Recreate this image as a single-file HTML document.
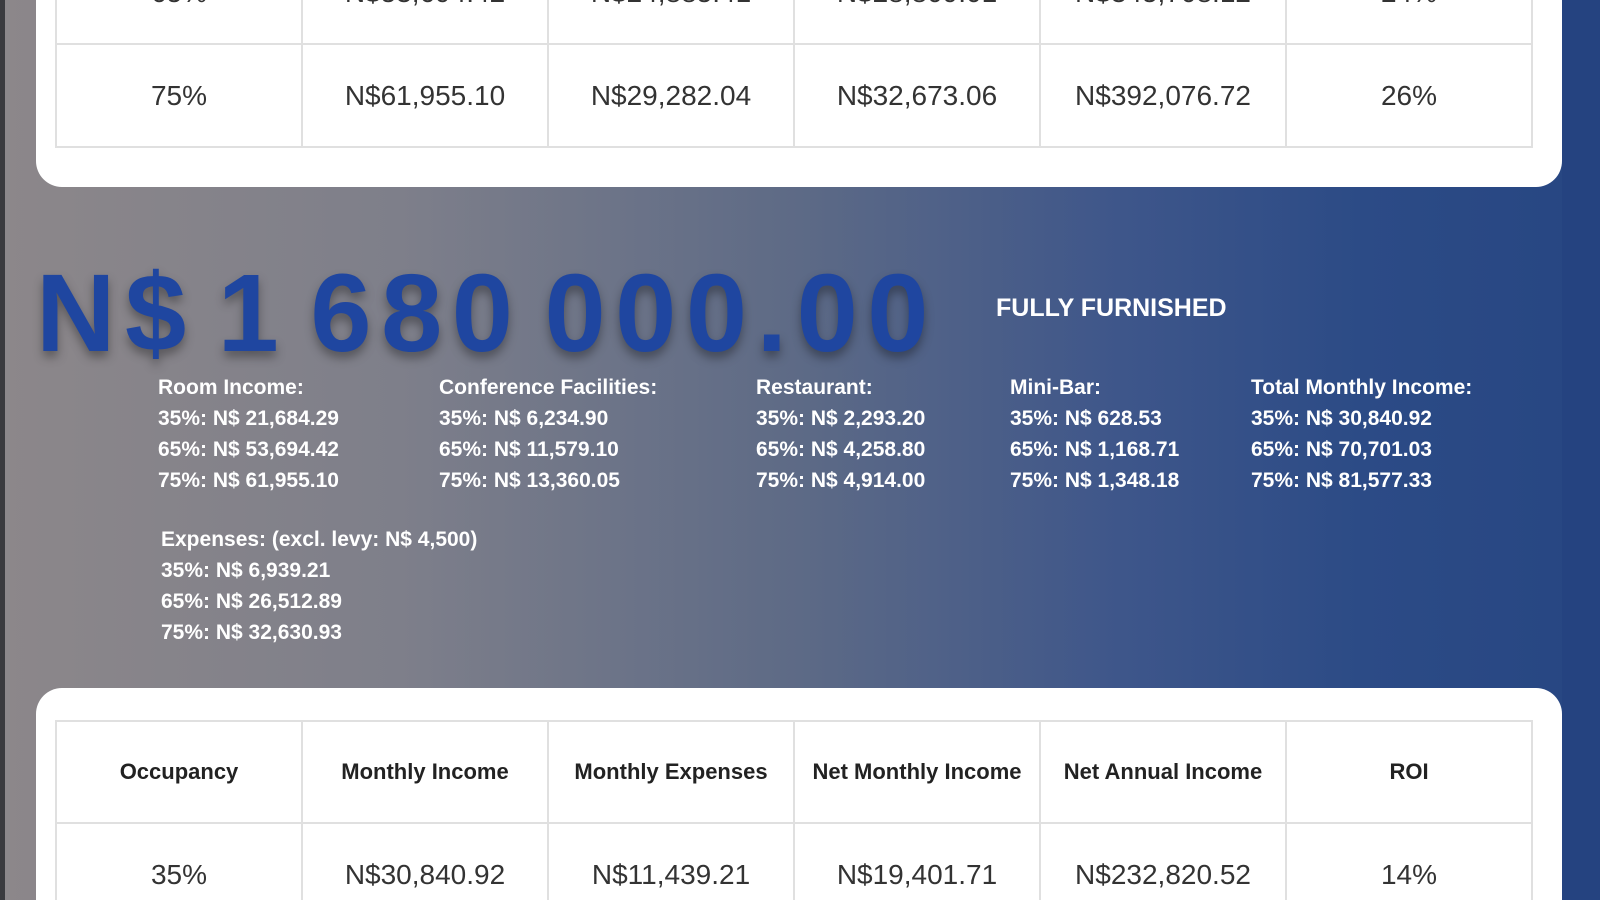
<!DOCTYPE html>
<html><head><meta charset="utf-8"><style>
*{margin:0;padding:0;box-sizing:border-box}
html{width:1600px;height:900px;overflow:hidden}
body{width:1600px;height:900px;overflow:hidden;position:relative;font-family:"Liberation Sans",sans-serif;
background:linear-gradient(90deg,#8c878a 0%,#7e7f8a 25%,#5d6a86 50%,#3e568a 70%,#2c4b86 85%,#274682 100%);}
.strip{position:absolute;left:0;top:0;width:5px;height:900px;background:#3a3a3e}
.rstrip{position:absolute;left:1562px;top:0;width:38px;height:900px;background:#254380}
.card{position:absolute;left:36px;width:1526px;background:#fff;border-radius:26px;overflow:hidden}
table{position:absolute;left:19px;border-collapse:collapse;table-layout:fixed}
td{border:2px solid #e0e0e0;width:246px;text-align:center;color:#333;font-size:28px}
th{border:2px solid #e0e0e0;width:246px;text-align:center;color:#222;font-size:22px;font-weight:bold}
.price{position:absolute;left:36px;top:250px;font-size:110px;font-weight:900;color:#1f46a0;letter-spacing:9.5px;word-spacing:-18px;text-shadow:0 6px 10px rgba(0,0,0,0.35);white-space:nowrap}
.ff{position:absolute;left:996px;top:294px;color:#fff;font-size:25px;font-weight:bold}
.col{position:absolute;color:#fff;font-size:21px;font-weight:bold;line-height:31px;white-space:nowrap}
</style></head><body>
<div class="strip"></div><div class="rstrip"></div>
<div class="card" style="top:-40px;height:227px;border-radius:0 0 26px 26px">
<table style="top:-20px">
<tr style="height:103px"><td>65%</td><td>N$53,694.42</td><td>N$24,885.41</td><td>N$28,809.01</td><td>N$345,708.12</td><td>24%</td></tr>
<tr style="height:103px"><td>75%</td><td>N$61,955.10</td><td>N$29,282.04</td><td>N$32,673.06</td><td>N$392,076.72</td><td>26%</td></tr>
</table></div>
<div class="price">N$ 1 680 000.00</div>
<div class="ff">FULLY FURNISHED</div>
<div class="col" style="left:158px;top:372px">Room Income:<br>35%: N$ 21,684.29<br>65%: N$ 53,694.42<br>75%: N$ 61,955.10</div>
<div class="col" style="left:439px;top:372px">Conference Facilities:<br>35%: N$ 6,234.90<br>65%: N$ 11,579.10<br>75%: N$ 13,360.05</div>
<div class="col" style="left:756px;top:372px">Restaurant:<br>35%: N$ 2,293.20<br>65%: N$ 4,258.80<br>75%: N$ 4,914.00</div>
<div class="col" style="left:1010px;top:372px">Mini-Bar:<br>35%: N$ 628.53<br>65%: N$ 1,168.71<br>75%: N$ 1,348.18</div>
<div class="col" style="left:1251px;top:372px">Total Monthly Income:<br>35%: N$ 30,840.92<br>65%: N$ 70,701.03<br>75%: N$ 81,577.33</div>
<div class="col" style="left:161px;top:524px">Expenses: (excl. levy: N$ 4,500)<br>35%: N$ 6,939.21<br>65%: N$ 26,512.89<br>75%: N$ 32,630.93</div>
<div class="card" style="top:688px;height:212px;border-radius:26px 26px 0 0">
<table style="top:32px">
<tr style="height:102px"><th>Occupancy</th><th>Monthly Income</th><th>Monthly Expenses</th><th>Net Monthly Income</th><th>Net Annual Income</th><th>ROI</th></tr>
<tr style="height:103px"><td>35%</td><td>N$30,840.92</td><td>N$11,439.21</td><td>N$19,401.71</td><td>N$232,820.52</td><td>14%</td></tr>
</table></div>
</body></html>
